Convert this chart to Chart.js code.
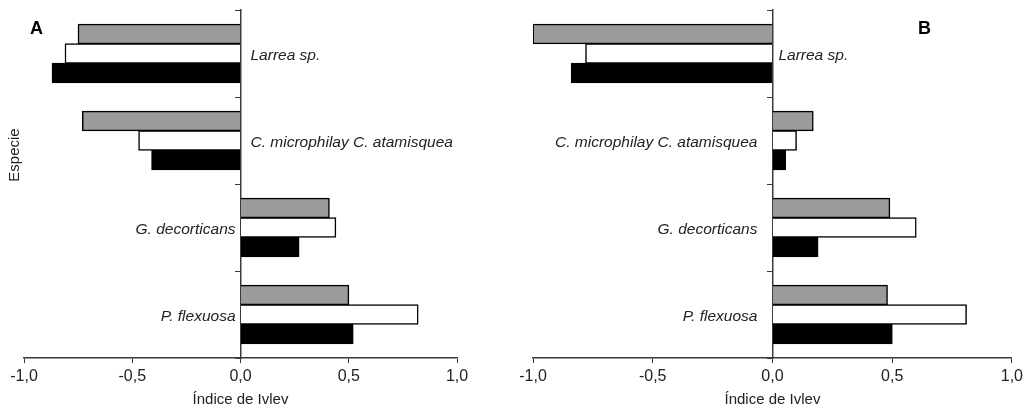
<!DOCTYPE html>
<html>
<head>
  <meta charset="UTF-8" />
  <title>Índice de Ivlev por especie</title>
  <script src="https://cdn.jsdelivr.net/npm/chart.js"></script>
  <style>
    body {
      margin: 0;
      background: #fff;
      font-family: "Liberation Sans", Arial, sans-serif;
    }
    .panel {
      position: absolute;
      top: 0;
    }
    #panelA { left: 0; }
    #panelB { left: 510px; }
  </style>
</head>
<body>
  <canvas id="panelA" class="panel" width="510" height="412"></canvas>
  <canvas id="panelB" class="panel" width="517" height="412"></canvas>

  <script>
    const categories = ['Larrea sp.', 'C. microphilay C. atamisquea', 'G. decorticans', 'P. flexuosa'];

    // panel A
    const grayA  = [-0.75, -0.73, 0.41, 0.50];
    const whiteA = [-0.81, -0.47, 0.44, 0.82];
    const blackA = [-0.87, -0.41, 0.27, 0.52];

    // panel B
    const grayB  = [-1.00, 0.17, 0.49, 0.48];
    const whiteB = [-0.78, 0.10, 0.60, 0.81];
    const blackB = [-0.84, 0.055, 0.19, 0.50];

    const xMin = -1, xMax = 1, xStep = 0.5;
    const xTitle = 'Índice de Ivlev';
    const yTitle = 'Especie';

    const FONT = '"Liberation Sans", Arial, sans-serif';
    const TEXT = '#222';
    const AXIS = '#3a3a3a';

    // species names sit next to the zero line, on the side without bars
    const speciesLabels = {
      id: 'speciesLabels',
      afterDraw(chart, args, opts) {
        const { ctx, scales: { x, y } } = chart;
        const x0 = x.getPixelForValue(0);
        ctx.save();
        ctx.fillStyle = TEXT;
        ctx.textBaseline = 'middle';
        ctx.font = 'italic 15.5px ' + FONT;
        chart.data.labels.forEach((lab, i) => {
          const yy = y.getPixelForValue(i) + 2;
          const allNeg = chart.data.datasets.every(d => d.data[i] < 0);
          if (allNeg) {
            ctx.textAlign = 'left';
            ctx.fillText(lab, x0 + opts.gapRight, yy);
          } else {
            ctx.textAlign = 'right';
            ctx.fillText(lab, x0 - opts.gapLeft, yy);
          }
        });

        ctx.font = 'bold 18px ' + FONT;
        ctx.fillStyle = '#000';
        ctx.textAlign = 'center';
        ctx.fillText(opts.letter, opts.letterX, opts.letterY);

        if (opts.yTitle) {
          ctx.font = '15px ' + FONT;
          ctx.fillStyle = TEXT;
          ctx.translate(15, 155);
          ctx.rotate(-Math.PI / 2);
          ctx.fillText(opts.yTitle, 0, 0);
        }
        ctx.restore();
      }
    };

    function makeChart(id, gray, white, black, padding, labelOpts) {
      return new Chart(document.getElementById(id), {
        type: 'bar',
        data: {
          labels: categories,
          datasets: [
            { data: gray,  backgroundColor: '#9b9b9b', borderColor: '#000', borderWidth: 1.5 },
            { data: white, backgroundColor: '#fff',    borderColor: '#000', borderWidth: 1.5 },
            { data: black, backgroundColor: '#000',    borderColor: '#000', borderWidth: 1.5 }
          ]
        },
        options: {
          indexAxis: 'y',
          responsive: false,
          animation: false,
          layout: { padding: padding },
          datasets: {
            bar: { categoryPercentage: 0.67, barPercentage: 1, inflateAmount: 0.5 }
          },
          plugins: {
            legend: { display: false },
            tooltip: { enabled: false },
            speciesLabels: labelOpts
          },
          scales: {
            x: {
              type: 'linear',
              position: 'bottom',
              min: xMin,
              max: xMax,
              ticks: {
                stepSize: xStep,
                padding: 4,
                color: TEXT,
                font: { family: FONT, size: 16 },
                callback: v => v.toFixed(1).replace('.', ',')
              },
              grid: {
                drawOnChartArea: false,
                drawTicks: true,
                tickLength: 5,
                color: AXIS
              },
              border: { display: true, color: AXIS, width: 1.5 },
              title: {
                display: true,
                text: xTitle,
                color: TEXT,
                font: { family: FONT, size: 15 },
                padding: { top: 0, bottom: 3 }
              },
              afterFit: s => { s.height = 54; }
            },
            y: {
              type: 'category',
              position: { x: 0 },
              ticks: { display: false },
              grid: {
                offset: true,
                drawOnChartArea: false,
                drawTicks: true,
                tickLength: 5,
                color: AXIS
              },
              border: { display: true, color: AXIS, width: 1.5 }
            }
          }
        },
        plugins: [speciesLabels]
      });
    }

    makeChart('panelA', grayA, whiteA, blackA,
      { left: 24, right: 53, top: 10, bottom: 0 },
      { gapLeft: 5, gapRight: 10, letter: 'A', letterX: 36.5, letterY: 29, yTitle: yTitle });

    makeChart('panelB', grayB, whiteB, blackB,
      { left: 23, right: 14, top: 10, bottom: 0 },
      { gapLeft: 15, gapRight: 6, letter: 'B', letterX: 414.5, letterY: 29, yTitle: null });
  </script>
</body>
</html>
